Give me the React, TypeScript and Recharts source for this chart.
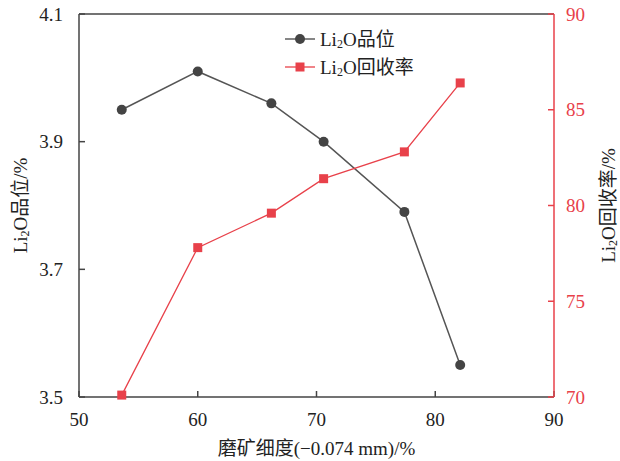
import React from "react";
import {
  LineChart,
  Line,
  XAxis,
  YAxis,
  ReferenceLine,
} from "recharts";

const fineness = [53.6, 60.0, 66.2, 70.6, 77.4, 82.1];
const grade = [3.95, 4.01, 3.96, 3.9, 3.79, 3.55];
const recovery = [70.1, 77.8, 79.6, 81.4, 82.8, 86.4];

const xTicks = [50, 60, 70, 80, 90];
const gradeTicks = [3.5, 3.7, 3.9, 4.1];
const recoveryTicks = [70, 75, 80, 85, 90];

const data = fineness.map((x, i) => ({ x, grade: grade[i], recovery: recovery[i] }));

const FONT = '"Liberation Serif", "Noto Sans CJK SC", serif';
const DARK = "#444444";
const RED = "#e8414a";

// rotated y-axis title with subscript 2 in Li2O
function SideLabel({ viewBox, offsetX, rest }: any) {
  const cx = viewBox.x + offsetX;
  const cy = viewBox.y + viewBox.height / 2;
  return (
    <text
      x={cx}
      y={cy}
      transform={`rotate(-90, ${cx}, ${cy})`}
      textAnchor="middle"
      dominantBaseline="central"
      fontFamily={FONT}
      fontSize={19}
      fill="#222"
    >
      Li
      <tspan dy={5} fontSize={12}>2</tspan>
      <tspan dy={-5}>{rest}</tspan>
    </text>
  );
}

function SquareDot(props: any) {
  const { cx, cy, index } = props;
  return <rect key={index} x={cx - 4.5} y={cy - 4.5} width={9} height={9} fill={RED} />;
}

function LegendBox() {
  const rows = [
    { name: "品位", color: DARK, square: false },
    { name: "回收率", color: RED, square: true },
  ];
  return (
    <svg width={200} height={60} style={{ position: "absolute", left: 283, top: 25 }}>
      {rows.map((r, i) => {
        const y = 14 + i * 28;
        return (
          <g key={r.name}>
            <line x1={2} x2={32} y1={y} y2={y} stroke={r.color} strokeWidth={1.3} />
            {r.square ? (
              <rect x={12.5} y={y - 4.5} width={9} height={9} fill={r.color} />
            ) : (
              <circle cx={17} cy={y} r={5} fill={r.color} />
            )}
            <text x={37} y={y} dominantBaseline="central" fontFamily={FONT} fontSize={19} fill="#222">
              Li
              <tspan dy={5} fontSize={12}>2</tspan>
              <tspan dy={-5}>O{r.name}</tspan>
            </text>
          </g>
        );
      })}
    </svg>
  );
}

export default function App() {
  return (
    <div style={{ position: "fixed", left: 0, top: 0, width: 620, height: 461, background: "#fff" }}>
      <LineChart width={620} height={461} data={data} margin={{ top: 14, right: 0, bottom: 0, left: 0 }}>
        <XAxis
          dataKey="x"
          type="number"
          domain={[50, 90]}
          ticks={xTicks}
          height={64}
          stroke={DARK}
          strokeWidth={1.5}
          tickSize={-6}
          tickMargin={22}
          tick={{ fill: "#222", fontSize: 19, fontFamily: FONT }}
          label={{
            value: "磨矿细度(−0.074 mm)/%",
            position: "insideBottom",
            offset: 6,
            fill: "#222",
            fontSize: 19,
            fontFamily: FONT,
          }}
        />
        <YAxis
          yAxisId="left"
          domain={[3.5, 4.1]}
          ticks={gradeTicks}
          width={79}
          stroke={DARK}
          strokeWidth={1.5}
          tickSize={-6}
          tickMargin={22}
          tickFormatter={(v: number) => v.toFixed(1)}
          tick={{ fill: "#222", fontSize: 19, fontFamily: FONT }}
          label={<SideLabel offsetX={20} rest="O品位/%" />}
        />
        <YAxis
          yAxisId="right"
          orientation="right"
          domain={[70, 90]}
          ticks={recoveryTicks}
          width={66}
          stroke={RED}
          strokeWidth={1.5}
          tickSize={-6}
          tickMargin={18}
          tick={{ fill: RED, fontSize: 19, fontFamily: FONT }}
          label={<SideLabel offsetX={54} rest="O回收率/%" />}
        />
        <ReferenceLine yAxisId="left" y={4.1} stroke={DARK} strokeWidth={1.5} />
        <Line
          yAxisId="left"
          dataKey="grade"
          type="linear"
          stroke="#555"
          strokeWidth={1.5}
          dot={{ r: 5, fill: DARK, stroke: DARK, strokeWidth: 0 }}
          isAnimationActive={false}
        />
        <Line
          yAxisId="right"
          dataKey="recovery"
          type="linear"
          stroke={RED}
          strokeWidth={1.3}
          dot={SquareDot}
          isAnimationActive={false}
        />
      </LineChart>
      <LegendBox />
    </div>
  );
}
